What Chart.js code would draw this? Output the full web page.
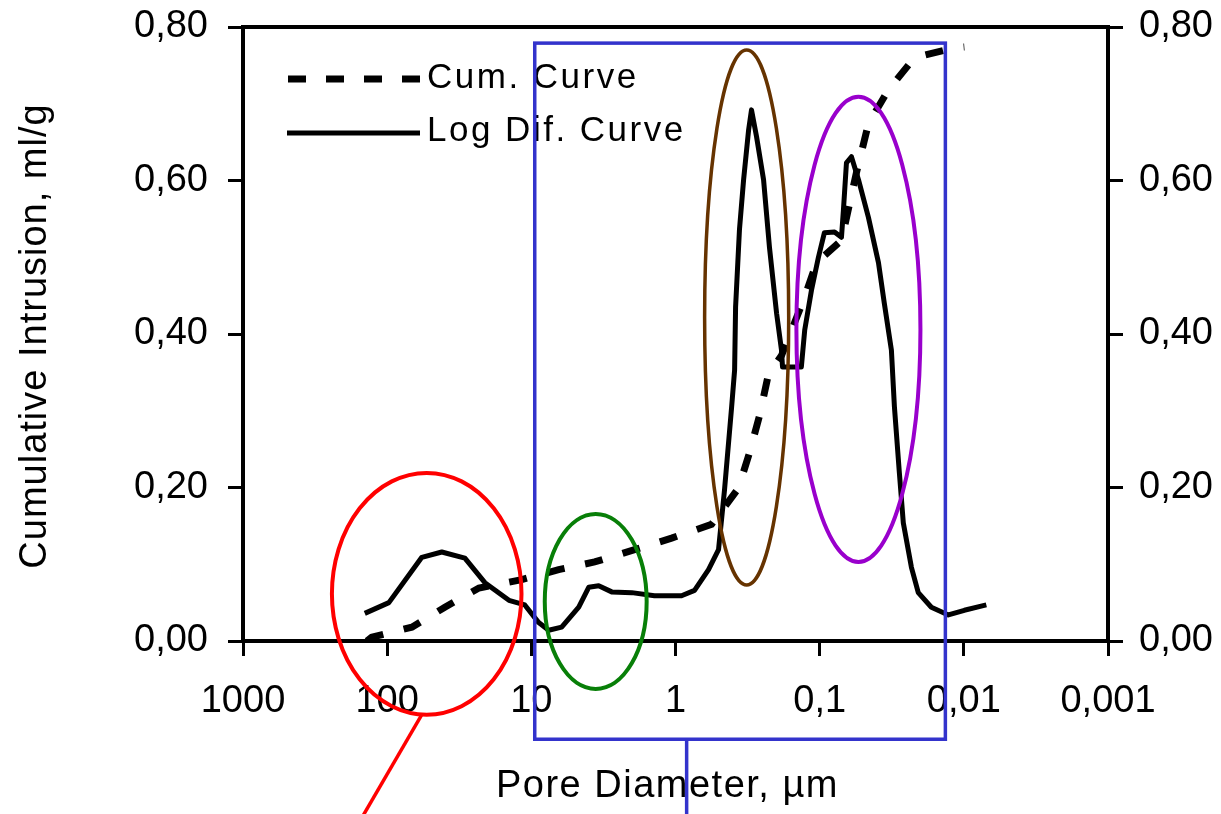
<!DOCTYPE html>
<html>
<head>
<meta charset="utf-8">
<script src="https://cdn.jsdelivr.net/npm/chart.js@4.4.1/dist/chart.umd.min.js"></script>
<style>
  html, body { margin:0; padding:0; background:#fff; }
  #wrap { width:1221px; height:814px; }
</style>
</head>
<body>
<div id="wrap"><canvas id="poreChart"></canvas></div>
<script>
// ── DATA ────────────────────────────────────────────────────────────────────
// pore diameter in µm, intrusion in ml/g
const cumDiameter  = [138, 128, 67.4, 39.8, 23.1, 11.65, 6.46, 3.64, 1.92, 1.064, 0.562, 0.366, 0.307, 0.261, 0.227, 0.184, 0.1295, 0.1052, 0.0706, 0.0556, 0.0459, 0.0334, 0.0220, 0.01164, 0.00992];
const cumIntrusion = [0, 0.005, 0.018, 0.044, 0.069, 0.080, 0.093, 0.103, 0.119, 0.134, 0.152, 0.199, 0.245, 0.294, 0.347, 0.372, 0.444, 0.493, 0.522, 0.610, 0.674, 0.718, 0.760, 0.773, 0.774];

const logDifDiameter = [143, 97.3, 57.5, 41.8, 28.9, 21.0, 14.3, 11.1, 8.89, 7.58,
  6.16, 4.69, 4.00, 3.41, 2.77, 2.01, 1.40, 0.908, 0.738, 0.590,
  0.503, 0.457, 0.408, 0.389, 0.383, 0.360, 0.337, 0.311, 0.297, 0.274,
  0.245, 0.223, 0.199, 0.184, 0.181, 0.134, 0.127, 0.114, 0.102, 0.0927,
  0.0789, 0.0706, 0.0684, 0.0652, 0.0602, 0.0538, 0.0459, 0.0391, 0.0356, 0.0318,
  0.0303, 0.0280, 0.0263, 0.0231, 0.0207, 0.0168, 0.0128, 0.00992, 0.00698];
const logDifValue = [0.036, 0.050, 0.109, 0.116, 0.108, 0.076, 0.053, 0.047, 0.024, 0.014,
  0.018, 0.044, 0.070, 0.072, 0.064, 0.063, 0.059, 0.059, 0.066, 0.093,
  0.119, 0.197, 0.305, 0.353, 0.435, 0.536, 0.601, 0.666, 0.692, 0.657,
  0.601, 0.513, 0.427, 0.379, 0.357, 0.357, 0.405, 0.457, 0.500, 0.532,
  0.533, 0.526, 0.562, 0.623, 0.631, 0.601, 0.552, 0.493, 0.440, 0.379,
  0.305, 0.219, 0.154, 0.096, 0.063, 0.044, 0.034, 0.040, 0.047];

const xTickValues = [1000, 100, 10, 1, 0.1, 0.01, 0.001];
const xTickLabels = ['1000', '100', '10', '1', '0,1', '0,01', '0,001'];
const seriesNames = ['Cum. Curve', 'Log Dif. Curve'];

// hand-drawn highlight marks, in data units (diameter range, intrusion range)
const noteEllipses = [
  {color:'#ff0000', lw:4,   d:[241.7, 11.7],  v:[-0.096, 0.219]},
  {color:'#087f08', lw:4,   d:[8.07, 1.585],  v:[-0.0625, 0.1655]},
  {color:'#663300', lw:3.5, d:[0.628, 0.164], v:[0.073, 0.770]},
  {color:'#9900cc', lw:4,   d:[0.145, 0.020], v:[0.103, 0.709]},
];
const noteBox = {color:'#3333cc', lw:3.5, d:[9.47, 0.01343], v:[-0.128, 0.779]};
const noteLines = [
  {color:'#ff0000', lw:3.5, d:[57.5, 155], v:[-0.096, -0.235]},
  {color:'#3333cc', lw:3.5, d:[0.837, 0.837], v:[-0.128, -0.235]},
];

const FONT = "'Liberation Sans', Arial, sans-serif";

// ── extra drawing: frame, legend, axis titles, notes ───────────────────────
const decorPlugin = {
  id: 'decor',
  afterDraw(chart) {
    const {ctx, chartArea: a, scales: {x, y}} = chart;
    ctx.save();

    // frame
    ctx.strokeStyle = '#000';
    ctx.lineWidth = 4;
    ctx.strokeRect(a.left, a.top, a.right - a.left, a.bottom - a.top);

    // legend
    ctx.lineCap = 'butt';
    ctx.lineWidth = 7;
    ctx.setLineDash([18, 20]);
    ctx.beginPath(); ctx.moveTo(a.left + 45, a.top + 52); ctx.lineTo(a.left + 177, a.top + 52); ctx.stroke();
    ctx.setLineDash([]);
    ctx.lineWidth = 5;
    ctx.beginPath(); ctx.moveTo(a.left + 44, a.top + 106); ctx.lineTo(a.left + 177, a.top + 106); ctx.stroke();
    ctx.fillStyle = '#000';
    ctx.font = '35px ' + FONT;
    ctx.letterSpacing = '2.5px';
    ctx.textAlign = 'left';
    ctx.textBaseline = 'alphabetic';
    ctx.fillText(seriesNames[0], a.left + 184, a.top + 61);
    ctx.fillText(seriesNames[1], a.left + 184, a.top + 114);

    // axis titles
    ctx.font = '38px ' + FONT;
    ctx.letterSpacing = '1.5px';
    ctx.textAlign = 'center';
    ctx.fillText('Pore Diameter, \u00b5m', (a.left + a.right) / 2 - 8, 797);
    ctx.save();
    ctx.letterSpacing = '1px';
    ctx.translate(46, (a.top + a.bottom) / 2 + 2);
    ctx.rotate(-Math.PI / 2);
    ctx.fillText('Cumulative Intrusion, ml/g', 0, 0);
    ctx.restore();
    ctx.letterSpacing = '0px';

    // highlight marks
    noteEllipses.forEach(e => {
      const x1 = x.getPixelForValue(e.d[0]), x2 = x.getPixelForValue(e.d[1]);
      const y1 = y.getPixelForValue(e.v[0]), y2 = y.getPixelForValue(e.v[1]);
      ctx.strokeStyle = e.color;
      ctx.lineWidth = e.lw;
      ctx.beginPath();
      ctx.ellipse((x1 + x2) / 2, (y1 + y2) / 2, Math.abs(x2 - x1) / 2, Math.abs(y2 - y1) / 2, 0, 0, Math.PI * 2);
      ctx.stroke();
    });
    {
      const x1 = x.getPixelForValue(noteBox.d[0]), x2 = x.getPixelForValue(noteBox.d[1]);
      const y1 = y.getPixelForValue(noteBox.v[0]), y2 = y.getPixelForValue(noteBox.v[1]);
      ctx.strokeStyle = noteBox.color;
      ctx.lineWidth = noteBox.lw;
      ctx.strokeRect(x1, y2, x2 - x1, y1 - y2);
    }
    noteLines.forEach(l => {
      ctx.strokeStyle = l.color;
      ctx.lineWidth = l.lw;
      ctx.beginPath();
      ctx.moveTo(x.getPixelForValue(l.d[0]), y.getPixelForValue(l.v[0]));
      ctx.lineTo(x.getPixelForValue(l.d[1]), y.getPixelForValue(l.v[1]));
      ctx.stroke();
    });

    ctx.restore();
  }
};

const tickGrid = {drawOnChartArea:false, drawTicks:true, tickLength:15, tickWidth:3, tickColor:'#000'};
const yFmt = v => v.toFixed(2).replace('.', ',');
const noPad = s => { s.paddingTop = 0; s.paddingBottom = 0; s.paddingLeft = 0; s.paddingRight = 0; };

new Chart(document.getElementById('poreChart'), {
  type: 'line',
  data: {
    datasets: [
      {
        label: seriesNames[0],
        data: cumDiameter.map((d, i) => ({x: d, y: cumIntrusion[i]})),
        borderColor: '#000', borderWidth: 7, borderDash: [18, 21], borderCapStyle: 'butt',
        pointRadius: 0, tension: 0, fill: false,
      },
      {
        label: seriesNames[1],
        data: logDifDiameter.map((d, i) => ({x: d, y: logDifValue[i]})),
        borderColor: '#000', borderWidth: 5, borderJoinStyle: 'round',
        pointRadius: 0, tension: 0, fill: false,
      },
    ]
  },
  options: {
    responsive: true, maintainAspectRatio: false, animation: false, devicePixelRatio: 1,
    layout: {padding: {top: 27, left: 0, right: 0, bottom: 0}},
    plugins: {legend: {display: false}, tooltip: {enabled: false}},
    scales: {
      x: {
        type: 'logarithmic', reverse: true, min: 0.001, max: 1000,
        afterBuildTicks: s => { s.ticks = xTickValues.map(v => ({value: v})); },
        afterFit: s => { s.height = 173; noPad(s); },
        ticks: {color:'#000', font:{family:FONT, size:38}, padding:23, autoSkip:false, maxRotation:0,
                callback: (v, i) => xTickLabels[i]},
        grid: tickGrid, border: {display:false},
      },
      y: {
        position: 'left', min: 0, max: 0.8,
        afterFit: s => { s.width = 243; noPad(s); },
        ticks: {stepSize:0.2, color:'#000', font:{family:FONT, size:38}, padding:20, callback: yFmt},
        grid: tickGrid, border: {display:false},
      },
      y1: {
        position: 'right', min: 0, max: 0.8,
        afterFit: s => { s.width = 113; noPad(s); },
        ticks: {stepSize:0.2, color:'#000', font:{family:FONT, size:38}, padding:16, callback: yFmt},
        grid: tickGrid, border: {display:false},
      },
    }
  },
  plugins: [decorPlugin]
});
</script>
</body>
</html>
